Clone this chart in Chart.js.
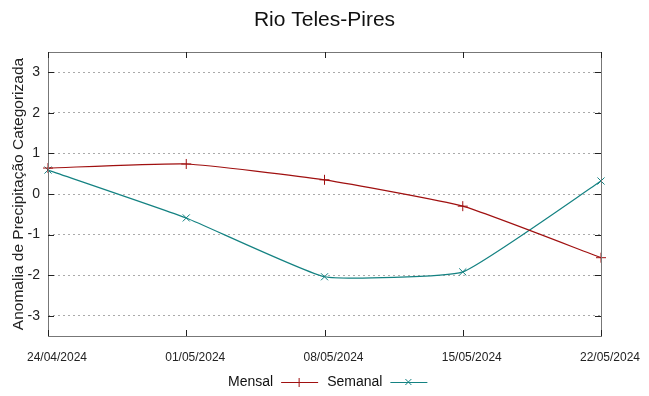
<!DOCTYPE html>
<html>
<head>
<meta charset="utf-8">
<script src="https://cdn.jsdelivr.net/npm/chart.js@4"></script>
<style>
  html, body { margin: 0; padding: 0; background: #fff; }
  #wrap { width: 649px; height: 396px; }
</style>
</head>
<body>
<div id="wrap"><canvas id="graph" width="649" height="396"></canvas></div>
<script>
var g_dates = ["24/04/2024", "01/05/2024", "08/05/2024", "15/05/2024", "22/05/2024"];
var g_mensal = [0.64, 0.74, 0.35, -0.30, -1.57];
var g_semanal = [0.59, -0.59, -2.04, -1.92, 0.32];
var g_yTicks = [3, 2, 1, 0, -1, -2, -3];
var g_title = "Rio Teles-Pires";
var g_red = "#a01010";
var g_teal = "#148282";
var g_font = "'Liberation Sans', Arial, sans-serif";

// title, frame, inward ticks and gnuplot-like legend
var framePlugin = {
    id: "frame",
    afterDraw: function (chart) {
        var ctx = chart.ctx;
        var a = chart.chartArea;
        var ys = chart.scales.y;
        var xs = chart.scales.x;
        ctx.save();
        ctx.fillStyle = "#111";
        ctx.font = "21px " + g_font;
        ctx.textAlign = "center";
        ctx.textBaseline = "middle";
        ctx.fillText(g_title, chart.width / 2, 20);

        ctx.strokeStyle = "#777";
        ctx.lineWidth = 1;
        ctx.strokeRect(Math.round(a.left) + 0.5, Math.round(a.top) + 0.5,
            Math.round(a.right - a.left), Math.round(a.bottom - a.top));
        ctx.strokeStyle = "#222";
        g_yTicks.forEach(function (v) {
            var py = Math.round(ys.getPixelForValue(v)) + 0.5;
            ctx.beginPath();
            ctx.moveTo(a.left, py); ctx.lineTo(a.left + 6, py);
            ctx.moveTo(a.right, py); ctx.lineTo(a.right - 6, py);
            ctx.stroke();
        });
        for (var i = 0; i < g_dates.length; i++) {
            var px = Math.round(xs.getPixelForValue(i)) + 0.5;
            ctx.beginPath();
            ctx.moveTo(px, a.bottom); ctx.lineTo(px, a.bottom - 6);
            ctx.moveTo(px, a.top); ctx.lineTo(px, a.top + 6);
            ctx.stroke();
        }
        // legend
        ctx.font = "14px " + g_font;
        ctx.fillStyle = "#111";
        var ly = 382;
        var x = 228;
        chart.data.datasets.forEach(function (ds) {
            ctx.textAlign = "left";
            ctx.fillText(ds.label, x, ly);
            x += ctx.measureText(ds.label).width + 8;
            ctx.strokeStyle = ds.borderColor;
            ctx.beginPath();
            ctx.moveTo(x, ly + 0.5); ctx.lineTo(x + 37, ly + 0.5);
            var cx = x + 18;
            if (ds.pointStyle === "cross") {
                ctx.moveTo(cx, ly - 4); ctx.lineTo(cx, ly + 5);
            } else {
                ctx.moveTo(cx - 3, ly - 3); ctx.lineTo(cx + 3, ly + 3);
                ctx.moveTo(cx - 3, ly + 3); ctx.lineTo(cx + 3, ly - 3);
            }
            ctx.stroke();
            x += 46;
        });
        ctx.restore();
    }
};

var ctx = document.getElementById("graph").getContext("2d");
var g_chart = new Chart(ctx, {
    type: "line",
    data: {
        labels: g_dates,
        datasets: [{
            label: "Mensal",
            data: g_mensal,
            borderColor: g_red,
            backgroundColor: g_red,
            borderWidth: 1.2,
            tension: 0.15,
            pointStyle: "cross",
            pointRadius: 5,
            pointBorderWidth: 1
        }, {
            label: "Semanal",
            data: g_semanal,
            borderColor: g_teal,
            backgroundColor: g_teal,
            borderWidth: 1.2,
            tension: 0.12,
            pointStyle: "crossRot",
            pointRadius: 5,
            pointBorderWidth: 1
        }]
    },
    options: {
        responsive: false,
        animation: false,
        layout: { padding: { left: 0, right: 48, top: 52, bottom: 0 } },
        plugins: {
            legend: { display: false },
            tooltip: { enabled: false }
        },
        scales: {
            x: {
                offset: false,
                grid: { display: false, drawTicks: false },
                border: { display: false },
                ticks: {
                    color: "#222",
                    font: { family: g_font, size: 12 },
                    padding: 14,
                    labelOffset: 9,
                    maxRotation: 0,
                    autoSkip: false
                },
                afterFit: function (s) { s.height = 60; }
            },
            y: {
                min: -3.5,
                max: 3.5,
                afterBuildTicks: function (s) {
                    s.ticks = g_yTicks.map(function (v) { return { value: v }; });
                },
                grid: {
                    color: "#aaa",
                    lineWidth: 1,
                    drawTicks: false
                },
                border: { display: false, dash: [2, 3] },
                ticks: {
                    color: "#222",
                    font: { family: g_font, size: 14 },
                    padding: 8
                },
                title: {
                    display: true,
                    text: "Anomalia de Precipitação Categorizada",
                    color: "#222",
                    font: { family: g_font, size: 15.5 },
                    padding: { top: 9, bottom: 0 }
                },
                afterFit: function (s) { s.width = 48; }
            }
        }
    },
    plugins: [framePlugin]
});
</script>
</body>
</html>
